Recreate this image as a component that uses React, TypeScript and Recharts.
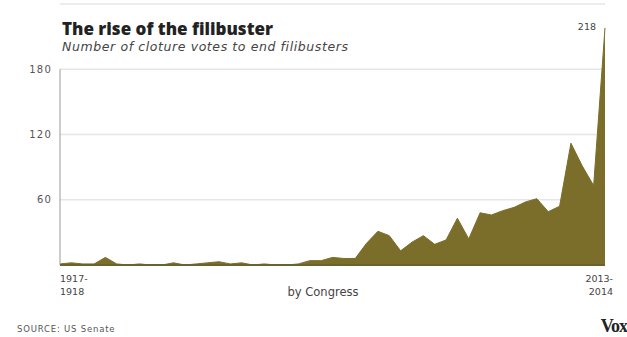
import React from 'react';
import { AreaChart, Area, XAxis, YAxis, CartesianGrid, ReferenceLine } from 'recharts';

const congresses = [
  '65th', '66th', '67th', '68th', '69th', '70th', '71st', '72nd', '73rd', '74th',
  '75th', '76th', '77th', '78th', '79th', '80th', '81st', '82nd', '83rd', '84th',
  '85th', '86th', '87th', '88th', '89th', '90th', '91st', '92nd', '93rd', '94th',
  '95th', '96th', '97th', '98th', '99th', '100th', '101st', '102nd', '103rd', '104th',
  '105th', '106th', '107th', '108th', '109th', '110th', '111th', '112th', '113th',
];

const clotureVotes = [
  1, 2, 1, 1, 7, 1, 0, 1, 0, 0,
  2, 0, 1, 2, 3, 1, 2, 0, 1, 0,
  0, 1, 4, 4, 7, 6, 6, 20, 31, 27,
  13, 21, 27, 19, 23, 43, 24, 48, 46, 50,
  53, 58, 61, 49, 54, 112, 91, 73, 218,
];

const yTicks = [60, 120, 180];
const firstLabel = ['1917-', '1918'];
const lastLabel = ['2013-', '2014'];

const data = congresses.map((c, i) => ({ congress: c, votes: clotureVotes[i] }));

const OLIVE = '#7a6e2a';
const SANS = "'Open Sans', 'Noto Sans', sans-serif";
const WIDE = "'DejaVu Sans', 'Open Sans', sans-serif";

const XTick = (props: any) => {
  const { x, y, payload } = props;
  const isFirst = payload.value === congresses[0];
  const lines = isFirst ? firstLabel : lastLabel;
  const tx = isFirst ? x : x + 8;
  const anchor = isFirst ? 'start' : 'end';
  return (
    <g>
      <text x={tx} y={y + 9} textAnchor={anchor} fontFamily={WIDE} fontSize={9.5} fill="#444">
        {lines[0]}
      </text>
      <text x={tx} y={y + 22} textAnchor={anchor} fontFamily={WIDE} fontSize={9.5} fill="#444">
        {lines[1]}
      </text>
    </g>
  );
};

const PeakLabel = (props: any) => {
  const { x, y, index, value } = props;
  if (index !== clotureVotes.length - 1) return null;
  return (
    <text x={x - 9} y={y + 2} textAnchor="end" fontFamily={WIDE} fontSize={9.5} fill="#444">
      {value}
    </text>
  );
};

export default function App() {
  return (
    <div style={{ position: 'absolute', left: 0, top: 0, width: 627, height: 337, background: '#fff' }}>
      <AreaChart
        width={627}
        height={337}
        data={data}
        margin={{ top: 4, right: 22, bottom: 0, left: 0 }}
      >
        <CartesianGrid horizontal vertical={false} stroke="#e6e6e6" strokeWidth={1.5} />
        <XAxis
          dataKey="congress"
          ticks={[congresses[0], congresses[congresses.length - 1]]}
          interval={0}
          tick={<XTick />}
          tickLine={false}
          axisLine={{ stroke: '#6b6230', strokeWidth: 2 }}
          height={72}
        />
        <YAxis
          domain={[0, 240]}
          ticks={yTicks}
          width={60}
          axisLine={false}
          tickLine={false}
          tick={{ fontFamily: WIDE, fontSize: 10, fill: '#555', letterSpacing: 1.2 }}
          tickMargin={2}
        />
        <ReferenceLine
          segment={[
            { x: congresses[0], y: 0 },
            { x: congresses[0], y: 180 },
          ]}
          stroke="#999"
          strokeWidth={1}
        />
        <Area
          type="linear"
          dataKey="votes"
          stroke={OLIVE}
          strokeWidth={1}
          fill={OLIVE}
          fillOpacity={1}
          isAnimationActive={false}
          label={<PeakLabel />}
        />
      </AreaChart>
      <svg
        width={627}
        height={337}
        style={{ position: 'absolute', left: 0, top: 0, pointerEvents: 'none' }}
      >
        <text x={62} y={35} fontFamily={SANS} fontWeight={800} fontSize={17} fill="#222">
          The rise of the filibuster
        </text>
        <text x={62} y={51} fontFamily={WIDE} fontStyle="italic" fontSize={12.5} letterSpacing={0.6} fill="#444">
          Number of cloture votes to end filibusters
        </text>
        <text x={323} y={296} textAnchor="middle" fontFamily={WIDE} fontSize={11.5} fill="#444">
          by Congress
        </text>
        <text x={17} y={332} fontFamily={WIDE} fontSize={8.5} letterSpacing={0.8} fill="#555">
          SOURCE: US Senate
        </text>
        <text x={627} y={332} textAnchor="end" fontFamily="'Liberation Serif', 'DejaVu Serif', serif" fontWeight={700} fontSize={18} fill="#222" letterSpacing={-1}>
          Vox
        </text>
      </svg>
    </div>
  );
}
